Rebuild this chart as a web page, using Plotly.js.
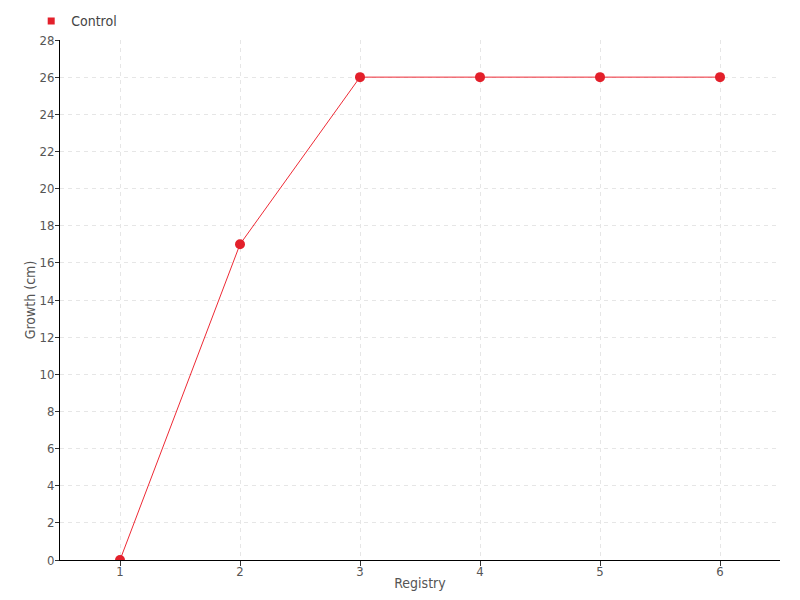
<!DOCTYPE html>
<html>
<head>
<meta charset="utf-8">
<script src="https://cdn.plot.ly/plotly-3.0.1.min.js"></script>
<style>html,body{margin:0;padding:0;background:#fff;}#chart{width:800px;height:600px;}</style>
</head>
<body>
<div id="chart"></div>
<script>
const registry = [1, 2, 3, 4, 5, 6];
const controlGrowth = [0, 17, 26, 26, 26, 26];
const yTicks = [0, 2, 4, 6, 8, 10, 12, 14, 16, 18, 20, 22, 24, 26, 28];

const fontFam = "'Liberation Sans Narrow', 'DejaVu Sans Condensed', 'Roboto Condensed', 'Roboto', sans-serif";

const trace = {
  x: registry,
  y: controlGrowth,
  name: 'Control',
  type: 'scatter',
  mode: 'lines+markers',
  line: {color: '#ee2a35', width: 1},
  marker: {color: '#e3202b', size: 10},
  showlegend: false
};

const legendTrace = {
  x: [null], y: [null],
  name: 'Control',
  type: 'scatter',
  mode: 'markers',
  marker: {color: '#e3202b', size: 7, symbol: 'square'},
  showlegend: true,
  hoverinfo: 'skip'
};

const layout = {
  width: 800, height: 600,
  margin: {l: 60, r: 20, t: 40, b: 40, autoexpand: false},
  paper_bgcolor: '#fff', plot_bgcolor: '#fff',
  font: {family: fontFam, color: '#555', size: 13},
  showlegend: true,
  legend: {x: -0.04, xanchor: 'left', y: 1.005, yanchor: 'bottom', orientation: 'h',
           font: {size: 14, color: '#444'}, itemwidth: 30, bgcolor: 'rgba(0,0,0,0)'},
  xaxis: {
    range: [0.5, 6.5], tickvals: registry, ticks: 'outside', ticklen: 5, tickcolor: '#333',
    showline: true, linecolor: '#000', linewidth: 1, zeroline: false,
    showgrid: true, gridcolor: '#e6e6e6', griddash: '4px,4px',
    ticklabelstandoff: -6,
    title: {text: 'Registry', font: {size: 14, color: '#555'}, standoff: 0},
    tickfont: {size: 13, color: '#555'}
  },
  yaxis: {
    range: [0, 28], tickvals: yTicks, ticks: 'outside', ticklen: 4, tickcolor: '#333',
    showline: true, linecolor: '#000', linewidth: 1, zeroline: false,
    showgrid: true, gridcolor: '#e6e6e6', griddash: '4px,4px',
    ticklabelstandoff: -2,
    title: {text: 'Growth (cm)', font: {size: 14, color: '#555'}, standoff: 0},
    tickfont: {size: 13, color: '#555'}
  }
};

Plotly.newPlot('chart', [trace, legendTrace], layout, {displayModeBar: false, staticPlot: true});
</script>
</body>
</html>
